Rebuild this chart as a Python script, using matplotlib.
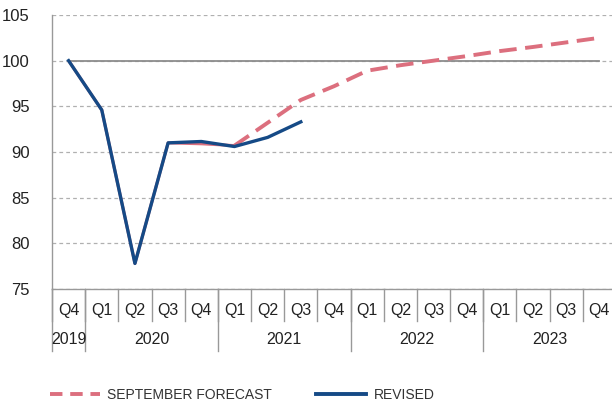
import numpy as np
import matplotlib
matplotlib.use('Agg')
import matplotlib.pyplot as plt
from matplotlib.lines import Line2D

quarters = ['Q4', 'Q1', 'Q2', 'Q3', 'Q4', 'Q1', 'Q2', 'Q3', 'Q4',
            'Q1', 'Q2', 'Q3', 'Q4', 'Q1', 'Q2', 'Q3', 'Q4']
years = ['2019', '2020', '2021', '2022', '2023']
year_start = [0, 1, 5, 9, 13]
year_end = [0, 4, 8, 12, 16]

forecast = [100, 94.6, 77.8, 91.0, 90.9, 90.7, 93.2, 95.7, 97.2,
            98.9, 99.5, 100.0, 100.5, 101.05, 101.5, 102.0, 102.5]
revised = [100, 94.6, 77.8, 91.0, 91.15, 90.6, 91.6, 93.3]
baseline = [100] * 17

red = '#dc6f7e'
blue = '#154a86'
grey = '#999999'

plt.rcParams['font.family'] = ['Liberation Sans', 'DejaVu Sans']

fig = plt.figure(figsize=(6.12, 4.03), dpi=100)
W, H = 612, 403
left, right, top, bottom = 52, 616, 15, 289
ax = fig.add_axes([left / W, 1 - bottom / H, (right - left) / W, (bottom - top) / H])

x = np.arange(len(quarters))
ax.plot(x, baseline, color='#8c8c8c', lw=1.3, zorder=2)
ax.plot(x[:6], forecast[:6], color=red, lw=2.2, zorder=3, solid_capstyle='butt')
ax.plot(x[5:], forecast[5:], color=red, lw=2.8, dashes=(4.5, 2.2), zorder=3)
ax.plot(x[:len(revised)], revised, color=blue, lw=2.4, zorder=4)

ax.set_xlim(-0.5, 16.5)
ax.set_ylim(75, 105)
ax.set_yticks(np.arange(75, 106, 5))
ax.tick_params(axis='y', length=0, pad=16, labelsize=12, labelcolor='#222222')
ax.set_xticks([])
ax.yaxis.grid(True, color='#b0b0b0', lw=0.9, dashes=(3, 2.5))
ax.set_axisbelow(True)
for s in ['top', 'right']:
    ax.spines[s].set_visible(False)
ax.spines['left'].set_color(grey)
ax.spines['bottom'].set_color(grey)
ax.spines['left'].set_linewidth(1.0)
ax.spines['bottom'].set_linewidth(1.0)

ah = bottom - top
tr = ax.get_xaxis_transform()
q_y = -(310 - bottom) / ah
y_y = -(340 - bottom) / ah
q_sep = -(321 - bottom) / ah
y_sep = -(351 - bottom) / ah

for i, q in enumerate(quarters):
    ax.text(i, q_y, q, transform=tr, ha='center', va='center', fontsize=11.5, color='#222222')
for i in range(len(quarters) + 1):
    ax.add_line(Line2D([i - 0.5, i - 0.5], [0, q_sep], transform=tr, color=grey,
                       lw=1.0, clip_on=False))
for yr, s, e in zip(years, year_start, year_end):
    ax.text((s + e) / 2, y_y, yr, transform=tr, ha='center', va='center', fontsize=11.5,
            color='#222222')
    ax.add_line(Line2D([s - 0.5, s - 0.5], [0, y_sep], transform=tr, color=grey,
                       lw=1.0, clip_on=False))

handles = [Line2D([], [], color=red, lw=2.8, dashes=(3.2, 2.0)),
           Line2D([], [], color=blue, lw=2.8)]
leg = fig.legend(handles, ['SEPTEMBER FORECAST', 'REVISED'], loc='center left',
                 bbox_to_anchor=(37 / W, 1 - 395 / H), ncol=2, frameon=False,
                 handlelength=3.6, handletextpad=0.55, columnspacing=3.2,
                 prop={'size': 10})
for t in leg.get_texts():
    t.set_color('#333333')

fig.savefig('out.png', dpi=100)
